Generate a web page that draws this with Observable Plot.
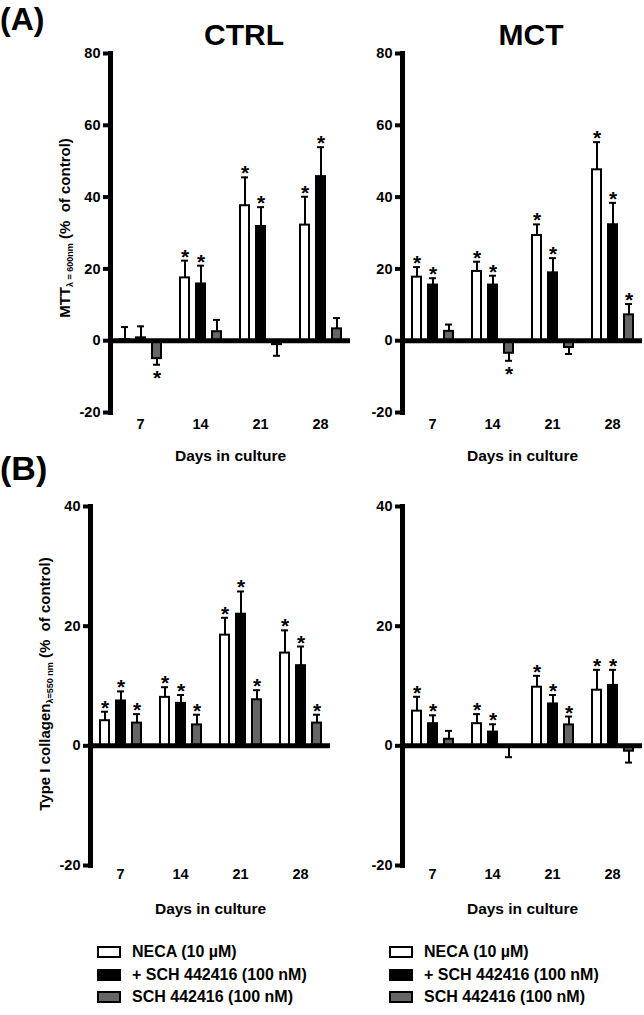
<!DOCTYPE html>
<html>
<head>
<meta charset="utf-8">
<script src="https://cdn.jsdelivr.net/npm/d3@7"></script>
<script src="https://cdn.jsdelivr.net/npm/@observablehq/plot@0.6"></script>
<style>
  body { margin: 0; background: #fff; }
  #fig { position: relative; width: 644px; height: 1015px; overflow: hidden; background: #fff;
         font-family: "Liberation Sans", Arial, sans-serif; font-weight: bold; color: #000; }
  .abs { position: absolute; white-space: pre; line-height: 1.2; }
  .panel { position: absolute; }
  .ylab { position: absolute; white-space: pre; font-size: 15px; line-height: 1;
          transform: translate(-50%, -50%) rotate(-90deg); }
  .ylab sub { font-size: 9px; vertical-align: -3px; }
  .leg { position: absolute; font-size: 16px; }
  .leg .row { position: absolute; left: 0; white-space: pre; height: 16px; line-height: 16px; }
  .leg .sw { position: absolute; left: 0; top: 2px; width: 20px; height: 8px; border: 2px solid #000; }
  .leg .tx { position: absolute; left: 35px; top: 0; }
</style>
</head>
<body>
<div id="fig"></div>
<script>
// ---------------- data ----------------
const days = ["7", "14", "21", "28"];
const series = ["NECA (10 µM)", "+ SCH 442416 (100 nM)", "SCH 442416 (100 nM)"];
const seriesFill = ["white", "black", "#666666"];

// values are listed day by day: [NECA, +SCH, SCH] for day 7, then 14, 21, 28
const mttCtrlMean = [0.3, 0.8, -5.0,   17.5, 15.8, 2.5,   37.6, 31.8, -1.1,   32.2, 45.7, 3.3];
const mttCtrlSem  = [3.5, 3.2, 1.7,    4.8, 5.1, 3.3,     7.9, 5.4, 3.1,      7.9, 8.2, 3.0];
const mttCtrlSig  = [0, 0, 1,          1, 1, 0,           1, 1, 0,            1, 1, 0];

const mttMctMean  = [17.7, 15.5, 2.6,  19.3, 15.5, -3.5,  29.3, 18.9, -1.9,   47.6, 32.3, 7.2];
const mttMctSem   = [2.8, 1.9, 1.9,    2.7, 2.6, 2.1,     3.1, 4.1, 1.8,      7.7, 6.1, 3.0];
const mttMctSig   = [1, 1, 0,          1, 1, 1,           1, 1, 0,            1, 1, 1];

const colCtrlMean = [4.2, 7.5, 3.8,    8.1, 7.1, 3.5,     18.5, 22.0, 7.7,    15.5, 13.4, 3.8];
const colCtrlSem  = [1.5, 1.6, 1.5,    1.7, 1.4, 1.7,     2.9, 3.8, 1.6,      3.8, 3.2, 1.4];
const colCtrlSig  = [1, 1, 1,          1, 1, 1,           1, 1, 1,            1, 1, 1];

const colMctMean  = [5.8, 3.7, 1.1,    3.7, 2.3, -0.2,    9.8, 7.0, 3.5,      9.3, 10.1, -0.9];
const colMctSem   = [2.4, 1.4, 1.4,    1.6, 1.3, 1.7,     1.9, 1.5, 1.4,      3.4, 2.6, 1.9];
const colMctSig   = [1, 1, 0,          1, 1, 0,           1, 1, 1,            1, 1, 0];

const mttTicks = [-20, 0, 20, 40, 60, 80];
const colTicks = [-20, 0, 20, 40];
const xTitle = "Days in culture";

// ---------------- build ----------------
const FONT = "'Liberation Sans', Arial, sans-serif";
function rowsOf(mean, sem, sig) {
  const rows = [];
  days.forEach((day, i) => series.forEach((s, j) => {
    const k = i * series.length + j;
    rows.push({day, series: s, mean: mean[k], sem: sem[k], sig: !!sig[k]});
  }));
  return rows;
}
const tip = d => d.mean + (d.mean < 0 ? -d.sem : d.sem);

function panel(rows, yTicks, o) {
  const pos = rows.filter(d => d.sig && d.mean >= 0);
  const neg = rows.filter(d => d.sig && d.mean < 0);
  const svg = Plot.plot({
    width: o.width, height: o.height,
    marginLeft: o.mL, marginRight: o.mR, marginTop: o.mT, marginBottom: o.mB,
    style: {background: "transparent", fontFamily: FONT,
            fontWeight: "bold", fontSize: "14px", color: "black", overflow: "visible"},
    fx: {domain: days, padding: 0},
    x: {domain: series, axis: null, paddingInner: 0.45, paddingOuter: 0.5},
    y: {domain: [yTicks[0], yTicks[yTicks.length - 1]]},
    color: {domain: series, range: seriesFill},
    marks: [
      Plot.barY(rows, {fx: "day", x: "series", y: "mean", fill: "series", stroke: "black", strokeWidth: 2}),
      Plot.ruleX(rows, {fx: "day", x: "series", y1: "mean", y2: tip, stroke: "black", strokeWidth: 2}),
      Plot.tickY(rows, {fx: "day", x: "series", y: tip, stroke: "black", strokeWidth: 2, insetLeft: 1, insetRight: 1}),
      Plot.ruleY([0], {stroke: "black", strokeWidth: 5}),
      Plot.text(pos, {fx: "day", x: "series", y: tip, text: () => "*", lineAnchor: "bottom", dy: 3, fontSize: 21, fontWeight: "bold", fontFamily: FONT}),
      Plot.text(neg, {fx: "day", x: "series", y: tip, text: () => "*", lineAnchor: "top", dy: 5, fontSize: 21, fontWeight: "bold", fontFamily: FONT}),
      Plot.frame({anchor: "left", stroke: "black", strokeWidth: 5, facetAnchor: "left"}),
      Plot.axisY({ticks: yTicks, tickSize: 7, tickPadding: 3, strokeWidth: 4, label: null, fontSize: 14.5, fontFamily: FONT, tickFormat: d => String(d)}),
      Plot.axisFx({anchor: "bottom", tickSize: 0, tickPadding: o.tickPad, label: xTitle, labelAnchor: "center", labelOffset: o.labelOffset, fontSize: 14.5, fontFamily: FONT})
    ]
  });
  d3.select(svg).selectAll('[aria-label="fx-axis label"] text, [aria-label="fx-axis label"]').attr("font-size", 15.5);
  return svg;
}

const fig = document.getElementById("fig");
function place(el, left, top) {
  const w = document.createElement("div");
  w.className = "panel";
  w.style.left = left + "px"; w.style.top = top + "px";
  w.appendChild(el);
  fig.appendChild(w);
}
function addText(html, cls, style) {
  const d = document.createElement("div");
  d.className = cls;
  d.innerHTML = html;
  Object.assign(d.style, style);
  fig.appendChild(d);
  return d;
}

// Panel A (MTT)
place(panel(rowsOf(mttCtrlMean, mttCtrlSem, mttCtrlSig), mttTicks,
  {width: 352, height: 427, mL: 110, mR: 2, mT: 13, mB: 55, tickPad: 6, labelOffset: 48}), 0, 40);
place(panel(rowsOf(mttMctMean, mttMctSem, mttMctSig), mttTicks,
  {width: 292, height: 427, mL: 50, mR: 2, mT: 13, mB: 55, tickPad: 6, labelOffset: 48}), 352, 40);
// Panel B (collagen)
place(panel(rowsOf(colCtrlMean, colCtrlSem, colCtrlSig), colTicks,
  {width: 332, height: 440, mL: 90, mR: 2, mT: 26, mB: 55, tickPad: 3, labelOffset: 48}), 0, 480);
place(panel(rowsOf(colMctMean, colMctSem, colMctSig), colTicks,
  {width: 312, height: 440, mL: 70, mR: 2, mT: 26, mB: 55, tickPad: 3, labelOffset: 48}), 332, 480);

// Titles
addText("(A)", "abs", {left: "0px", top: "0px", fontSize: "32px"});
addText("(B)", "abs", {left: "0px", top: "448px", fontSize: "34px"});
addText("CTRL", "abs", {left: "244px", top: "17px", fontSize: "30px", transform: "translateX(-50%)"});
addText("MCT", "abs", {left: "531px", top: "17px", fontSize: "30px", transform: "translateX(-50%)"});

// Y labels
addText("MTT<sub>λ = 600nm</sub> (%  of control)", "ylab", {left: "66px", top: "228px"});
addText("Type I collagen<sub>λ=550 nm</sub> (%  of control)", "ylab", {left: "46px", top: "684px"});

// Legends
function legend(left, top) {
  const g = document.createElement("div");
  g.className = "leg";
  g.style.left = left + "px"; g.style.top = top + "px";
  series.forEach((s, i) => {
    const r = document.createElement("div");
    r.className = "row";
    r.style.top = [0, 23, 45][i] + "px";
    const sw = document.createElement("div");
    sw.className = "sw";
    sw.style.background = seriesFill[i];
    const tx = document.createElement("div");
    tx.className = "tx";
    tx.textContent = s;
    r.appendChild(sw); r.appendChild(tx);
    g.appendChild(r);
  });
  fig.appendChild(g);
}
legend(97, 944);
legend(389, 944);
</script>
</body>
</html>
